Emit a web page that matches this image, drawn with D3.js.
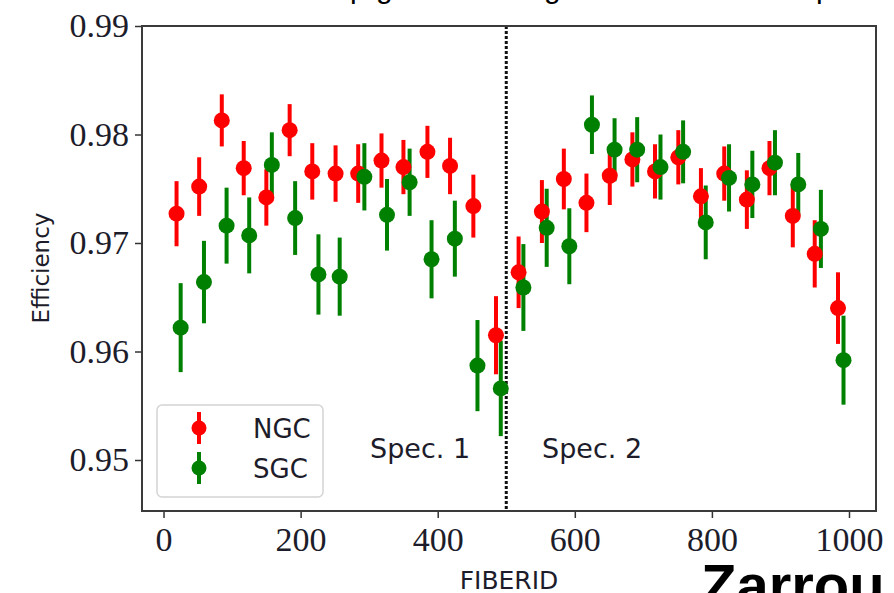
<!DOCTYPE html>
<html>
<head>
<meta charset="utf-8">
<script src="https://cdn.jsdelivr.net/npm/d3@7"></script>
<style>
  html, body { margin: 0; padding: 0; background: #fff; overflow: hidden; }
  svg { display: block; }
</style>
</head>
<body>
<svg id="chart" width="894" height="593"></svg>
<script>
// Fiber efficiency per FIBERID bin, NGC and SGC samples
const ngcFiber = [19, 52, 85, 117, 150, 184, 217, 251, 284, 318, 350, 385, 418, 452, 485,
                  518, 552, 584, 617, 651, 684, 717, 751, 784, 818, 851, 884, 918, 950, 984];
const ngcEff = [0.9727, 0.9752, 0.9813, 0.9769, 0.9742, 0.9804, 0.9766, 0.9764, 0.9764, 0.9776,
                0.9770, 0.9784, 0.9771, 0.9734, 0.9615, 0.9673, 0.9729, 0.9759, 0.9737, 0.9762,
                0.9777, 0.9766, 0.9779, 0.9743, 0.9764, 0.9740, 0.9769, 0.9725, 0.9690, 0.9640];
const ngcErr = [0.0030, 0.0027, 0.0024, 0.0025, 0.0026, 0.0024, 0.0026, 0.0026, 0.0027, 0.0025,
                0.0025, 0.0024, 0.0026, 0.0029, 0.0036, 0.0033, 0.0029, 0.0028, 0.0027, 0.0027,
                0.0025, 0.0025, 0.0025, 0.0026, 0.0025, 0.0027, 0.0025, 0.0029, 0.0031, 0.0033];

const sgcFiber = [25, 59, 92, 125, 158, 192, 226, 257, 293, 326, 359, 391, 425, 458, 492,
                  525, 559, 592, 625, 658, 691, 725, 758, 791, 825, 859, 892, 926, 959, 992];
const sgcEff = [0.9622, 0.9664, 0.9716, 0.9707, 0.9772, 0.9723, 0.9671, 0.9669, 0.9761, 0.9726,
                0.9756, 0.9685, 0.9704, 0.9587, 0.9566, 0.9659, 0.9714, 0.9697, 0.9809, 0.9786,
                0.9786, 0.9770, 0.9784, 0.9719, 0.9760, 0.9754, 0.9774, 0.9754, 0.9713, 0.9592];
const sgcErr = [0.0041, 0.0038, 0.0035, 0.0035, 0.0030, 0.0034, 0.0037, 0.0036, 0.0031, 0.0033,
                0.0031, 0.0036, 0.0035, 0.0042, 0.0044, 0.0040, 0.0036, 0.0035, 0.0027, 0.0029,
                0.0030, 0.0030, 0.0029, 0.0034, 0.0031, 0.0031, 0.0030, 0.0029, 0.0036, 0.0041];

const xTicks = [0, 200, 400, 600, 800, 1000];
const yTicks = [0.95, 0.96, 0.97, 0.98, 0.99];
const seriesNames = ["NGC", "SGC"];
const seriesColors = ["#ff0000", "#008000"];
const spectrographSplit = 500;
const specLabels = ["Spec. 1", "Spec. 2"];

const svg = d3.select("#chart");
const plotLeft = 142, plotRight = 876, plotTop = 26, plotBottom = 511;

const x = d3.scaleLinear().domain([-31.4, 1039.4]).range([plotLeft, plotRight]);
const y = d3.scaleLinear().domain([0.9453, 0.99]).range([plotBottom, plotTop]);

const textColor = "#1c1c2a";
const serif = "'Liberation Serif', 'Times New Roman', serif";
const sans = "'DejaVu Sans', 'Open Sans', sans-serif";

// Fragments of the slide text around the figure
const topGlyphs = [["p", 350], ["g", 376], ["g", 544], ["p", 816]];
svg.selectAll("text.topglyph").data(topGlyphs).join("text")
  .attr("class", "topglyph")
  .attr("x", d => d[1]).attr("y", -2)
  .attr("font-family", "'Liberation Sans', Arial, sans-serif")
  .attr("font-size", 30).attr("fill", "#000")
  .text(d => d[0]);

svg.append("text")
  .attr("x", 701).attr("y", 605)
  .attr("font-family", "'Liberation Sans', Arial, sans-serif")
  .attr("font-weight", "bold").attr("font-size", 58).attr("fill", "#000")
  .text("Zarrou");

// Axes
const xAxis = svg.append("g")
  .attr("transform", `translate(0,${plotBottom})`)
  .call(d3.axisBottom(x).tickValues(xTicks).tickSize(7).tickPadding(9).tickFormat(d3.format("d")));
const yAxis = svg.append("g")
  .attr("transform", `translate(${plotLeft},0)`)
  .call(d3.axisLeft(y).tickValues(yTicks).tickSize(7).tickPadding(6).tickFormat(d3.format(".2f")));

[xAxis, yAxis].forEach(g => {
  g.select(".domain").remove();
  g.selectAll(".tick line").attr("stroke", "#333").attr("stroke-width", 1.5);
  g.selectAll(".tick text").attr("font-family", serif).attr("font-size", 34).attr("fill", textColor);
});

// Axis titles
svg.append("text")
  .attr("x", 509).attr("y", 589)
  .attr("text-anchor", "middle")
  .attr("font-family", sans).attr("font-size", 25).attr("fill", textColor)
  .text("FIBERID");
svg.append("text")
  .attr("transform", "translate(49,268) rotate(-90)")
  .attr("text-anchor", "middle")
  .attr("font-family", sans).attr("font-size", 23).attr("fill", textColor)
  .text("Efficiency");

// Spectrograph boundary
svg.append("line")
  .attr("x1", x(spectrographSplit)).attr("x2", x(spectrographSplit))
  .attr("y1", plotTop).attr("y2", plotBottom)
  .attr("stroke", "#111").attr("stroke-width", 3)
  .attr("stroke-dasharray", "3,2");

svg.append("text")
  .attr("x", 370).attr("y", 458)
  .attr("font-family", sans).attr("font-size", 27).attr("fill", textColor)
  .text(specLabels[0]);
svg.append("text")
  .attr("x", 542).attr("y", 458)
  .attr("font-family", sans).attr("font-size", 27).attr("fill", textColor)
  .text(specLabels[1]);

// Error bars and markers
const series = [
  { name: seriesNames[0], color: seriesColors[0], pts: ngcFiber.map((f, i) => ({ f, v: ngcEff[i], e: ngcErr[i] })) },
  { name: seriesNames[1], color: seriesColors[1], pts: sgcFiber.map((f, i) => ({ f, v: sgcEff[i], e: sgcErr[i] })) }
];

const plot = svg.append("g");
series.forEach(s => {
  plot.append("g").selectAll("line").data(s.pts).join("line")
    .attr("x1", d => x(d.f)).attr("x2", d => x(d.f))
    .attr("y1", d => y(d.v - d.e)).attr("y2", d => y(d.v + d.e))
    .attr("stroke", s.color).attr("stroke-width", 4);
});
series.forEach(s => {
  plot.append("g").selectAll("circle").data(s.pts).join("circle")
    .attr("cx", d => x(d.f)).attr("cy", d => y(d.v)).attr("r", 8)
    .attr("fill", s.color);
});

// Frame
svg.append("rect")
  .attr("x", plotLeft).attr("y", plotTop)
  .attr("width", plotRight - plotLeft).attr("height", plotBottom - plotTop)
  .attr("fill", "none").attr("stroke", "#3a3a3a").attr("stroke-width", 2);

// Legend
const legend = svg.append("g");
legend.append("rect")
  .attr("x", 157).attr("y", 405).attr("width", 166).attr("height", 92).attr("rx", 5)
  .attr("fill", "#fff").attr("fill-opacity", 0.8)
  .attr("stroke", "#d4d4d4").attr("stroke-width", 1.5);
series.forEach((s, i) => {
  const cy = 428 + i * 40;
  legend.append("line")
    .attr("x1", 199).attr("x2", 199).attr("y1", cy - 16).attr("y2", cy + 16)
    .attr("stroke", s.color).attr("stroke-width", 4);
  legend.append("circle").attr("cx", 199).attr("cy", cy).attr("r", 7.5).attr("fill", s.color);
  legend.append("text")
    .attr("x", 253).attr("y", cy + 9.5)
    .attr("font-family", sans).attr("font-size", 26).attr("fill", textColor)
    .text(s.name);
});
</script>
</body>
</html>
